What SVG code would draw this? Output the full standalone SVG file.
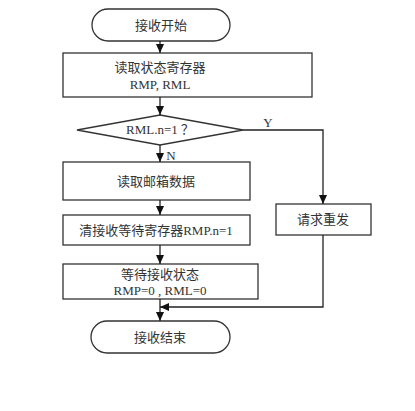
<svg xmlns="http://www.w3.org/2000/svg" width="415" height="411" viewBox="0 0 415 411">
<defs>
<marker id="ah" markerWidth="10" markerHeight="10" refX="9" refY="5" orient="auto" markerUnits="userSpaceOnUse">
<path d="M0,1 L9,5 L0,9 Z" fill="#111"/>
</marker>
<style>
.s{fill:#fff;stroke:#333;stroke-width:1.3}
.t{font-family:"Liberation Serif","Noto Sans CJK SC",serif;font-size:13px;fill:#333;text-anchor:middle}
.c{fill:none;stroke:#222;stroke-width:1.3}
</style>
</defs>
<rect width="415" height="411" fill="#fff"/>
<g id="start"><rect class="s" x="92" y="9" width="138" height="32" rx="16"/><text class="t" x="161" y="30">接收开始</text></g>
<g id="read-status"><rect class="s" x="63" y="53" width="249" height="44"/><text class="t" x="160" y="72">读取状态寄存器</text><text class="t" x="160" y="89">RMP, RML</text></g>
<g id="decision"><polygon class="s" points="160,115 243,130 160,145 77,130"/><text class="t" x="160" y="134">RML.n=1 ？</text></g>
<g id="read-mailbox"><rect class="s" x="63" y="162" width="187" height="38"/><text class="t" x="156" y="186">读取邮箱数据</text></g>
<g id="clear"><rect class="s" x="63" y="215" width="187" height="30"/><text class="t" x="156" y="235">清接收等待寄存器RMP.n=1</text></g>
<g id="wait"><rect class="s" x="63" y="264" width="195" height="35"/><text class="t" x="160" y="279">等待接收状态</text><text class="t" x="160" y="295">RMP=0 , RML=0</text></g>
<g id="resend"><rect class="s" x="276" y="204" width="95" height="31"/><text class="t" x="323" y="224">请求重发</text></g>
<g id="end"><rect class="s" x="91" y="321" width="139" height="32" rx="16"/><text class="t" x="160" y="342">接收结束</text></g>
<g id="connectors">
<line class="c" x1="160" y1="41" x2="160" y2="53" marker-end="url(#ah)"/>
<line class="c" x1="160" y1="97" x2="160" y2="115" marker-end="url(#ah)"/>
<line class="c" x1="160" y1="145" x2="160" y2="162" marker-end="url(#ah)"/>
<line class="c" x1="160" y1="200" x2="160" y2="215" marker-end="url(#ah)"/>
<line class="c" x1="160" y1="245" x2="160" y2="264" marker-end="url(#ah)"/>
<line class="c" x1="160" y1="299" x2="160" y2="321" marker-end="url(#ah)"/>
<polyline class="c" points="243,130 323,130 323,204" marker-end="url(#ah)"/>
<polyline class="c" points="323,235 323,307 160,307" marker-end="url(#ah)"/>
<text class="t" x="268" y="127">Y</text>
<text class="t" x="171" y="160">N</text>
</g>
</svg>
